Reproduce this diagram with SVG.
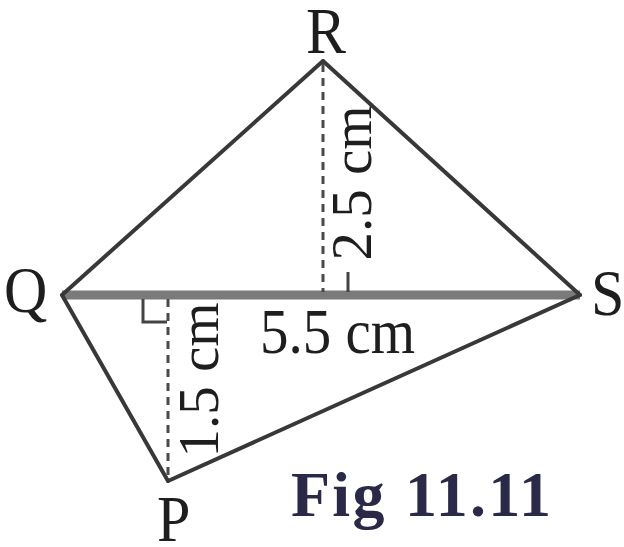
<svg xmlns="http://www.w3.org/2000/svg" width="624" height="547" viewBox="0 0 624 547">
  <style>
    .edge { stroke: #383838; stroke-width: 4; fill: none; stroke-linecap: round; }
    .diag { stroke: #7a7a7a; stroke-width: 9; fill: none; }
    .dash { stroke: #4a4a4a; stroke-width: 3; stroke-dasharray: 8 6; fill: none; }
    .mark { stroke: #444; stroke-width: 3; fill: none; }
    .lbl { font-family: "Liberation Serif", "Times New Roman", serif; font-size: 60px; fill: #1e1e1e; }
    .meas { font-family: "Liberation Serif", "Times New Roman", serif; font-size: 57px; fill: #1e1e1e; }
    .fig { font-family: "Liberation Serif", "Times New Roman", serif; font-size: 64px; font-weight: bold; fill: #2a2a48; }
  </style>
  <rect width="624" height="547" fill="#ffffff"/>

  <g id="connectors">
    <line class="diag" x1="62" y1="295" x2="580" y2="295"/>
    <line class="edge" x1="62" y1="295" x2="323" y2="61"/>
    <line class="edge" x1="323" y1="61" x2="580" y2="295"/>
    <line class="edge" x1="62" y1="295" x2="168" y2="481"/>
    <line class="edge" x1="168" y1="481" x2="580" y2="295"/>
    <line class="dash" x1="323" y1="64" x2="323" y2="292"/>
    <line class="dash" x1="168" y1="299" x2="168" y2="480"/>
    <line class="mark" x1="348" y1="272" x2="348" y2="292"/>
    <path class="mark" d="M143,299 V322 H167"/>
  </g>

  <g id="R"><text class="lbl" text-anchor="middle" transform="translate(326,53) scale(1,1.1)">R</text></g>
  <g id="Q"><text class="lbl" transform="translate(4,312) scale(1,1.1)">Q</text></g>
  <g id="S"><text class="lbl" transform="translate(591,315) scale(1,1.1)">S</text></g>
  <g id="P"><text class="lbl" transform="translate(157,541) scale(1,1.1)">P</text></g>

  <g id="labels">
    <text class="meas" transform="translate(260,353) scale(1,1.12)">5.5 cm</text>
    <text class="meas" text-anchor="middle" transform="translate(371,183) rotate(-90)">2.5 cm</text>
    <text class="meas" text-anchor="middle" transform="translate(218,380) rotate(-90)">1.5 cm</text>
    <text class="fig" x="291" y="516" textLength="260" lengthAdjust="spacing">Fig 11.11</text>
  </g>
</svg>
